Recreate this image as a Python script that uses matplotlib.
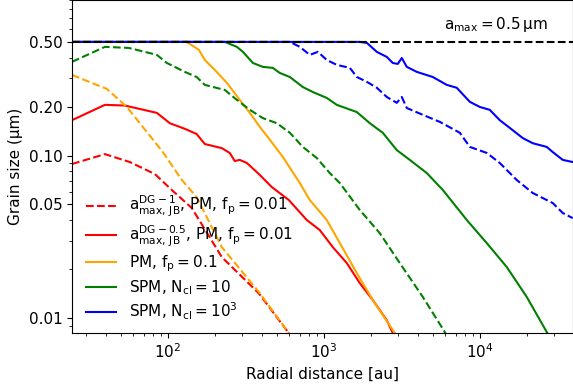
import matplotlib
matplotlib.use("Agg")
import matplotlib.pyplot as plt
from matplotlib.ticker import FixedLocator, FormatStrFormatter, LogLocator, NullFormatter

plt.rcParams['mathtext.default'] = 'regular'
plt.rcParams['font.size'] = 11

# Red dashed: a_max,JB^{DG-1}, PM, f_p=0.01
r1_x = [24.3, 39.5, 57, 82.6, 106, 142.5, 222, 383, 597, 700]
r1_y = [0.0887, 0.102, 0.0912, 0.0769, 0.0614, 0.0475, 0.0237, 0.0142, 0.00807, 0.0065]

# Red solid: a_max,JB^{DG-0.5}, PM, f_p=0.01
r2_x = [24.3, 39.5, 53, 85, 103, 128.5, 153, 172.6, 222, 249.5, 268.5, 289, 321, 389, 464,
        597, 778, 942, 1143, 1404, 1702, 2062, 2534, 2768, 3000]
r2_y = [0.165, 0.205, 0.203, 0.183, 0.158, 0.146, 0.1356, 0.1177, 0.111, 0.1037, 0.0925, 0.094,
        0.090, 0.0759, 0.064, 0.0532, 0.0401, 0.0348, 0.0273, 0.0218, 0.0164, 0.0129, 0.0097,
        0.0081, 0.0068]

# Orange dashed (no legend entry)
o1_x = [24.3, 40.6, 54.6, 92.9, 123, 153, 222, 383, 597, 700]
o1_y = [0.313, 0.257, 0.199, 0.105, 0.0707, 0.0555, 0.0273, 0.0145, 0.0081, 0.0066]

# Orange solid: PM, f_p=0.1
o2_x = [24.3, 132, 158, 172.6, 200, 239, 289, 335.5, 389, 451, 546, 702, 813, 1045, 1267,
        1629, 2062, 2850, 3100]
o2_y = [0.5, 0.5, 0.447, 0.387, 0.336, 0.280, 0.220, 0.183, 0.150, 0.125, 0.098, 0.0677,
        0.0532, 0.0401, 0.0289, 0.0189, 0.0129, 0.0081, 0.0070]

# Green dashed (no legend entry)
g1_x = [24.3, 39.5, 56.2, 85, 98.5, 128.5, 153, 172.6, 232, 277, 335.5, 406, 500, 606, 733,
        901, 1092, 1267, 1702, 2285, 3070, 4311, 5970, 6500]
g1_y = [0.377, 0.466, 0.459, 0.416, 0.371, 0.327, 0.304, 0.272, 0.253, 0.220, 0.191, 0.170,
        0.158, 0.138, 0.113, 0.0966, 0.078, 0.0677, 0.0462, 0.0333, 0.0218, 0.0135, 0.0082,
        0.0070]

# Green solid: SPM, N_cl=10
g2_x = [24.3, 232, 277, 303, 351, 406, 471, 522, 606, 733, 849, 1045, 1211, 1629, 1973, 2388,
        2937, 3558, 4575, 5793, 8260, 11100, 14900, 20000, 26900, 29000]
g2_y = [0.5, 0.5, 0.466, 0.434, 0.371, 0.351, 0.346, 0.322, 0.304, 0.264, 0.246, 0.226, 0.205,
        0.185, 0.158, 0.138, 0.108, 0.094, 0.078, 0.0614, 0.0401, 0.0289, 0.0206, 0.0135,
        0.0082, 0.0072]

# Blue dashed (no legend entry)
b1_x = [24.3, 606, 702, 813, 916, 1045, 1211, 1468, 1629, 1888, 2188, 2535, 2937, 3162, 3405,
        4311, 5546, 7450, 8630, 11100, 13430, 17260, 21870, 29380, 34050, 39460]
b1_y = [0.5, 0.5, 0.466, 0.416, 0.434, 0.387, 0.361, 0.346, 0.304, 0.284, 0.261, 0.229, 0.211,
        0.229, 0.196, 0.178, 0.161, 0.138, 0.113, 0.1037, 0.090, 0.0707, 0.0588, 0.051,
        0.0443, 0.0412]

# Blue solid: SPM, N_cl=10^3
b2_x = [24.3, 1702, 1888, 2188, 2535, 2768, 2979, 3162, 3405, 3945, 5000, 6140, 7120, 8630,
        10000, 11590, 13430, 15560, 18870, 21870, 26860, 29380, 34050, 39460]
b2_y = [0.5, 0.5, 0.493, 0.434, 0.404, 0.371, 0.366, 0.398, 0.351, 0.327, 0.304, 0.272, 0.261,
        0.214, 0.199, 0.191, 0.165, 0.148, 0.128, 0.119, 0.113, 0.105, 0.094, 0.0912]

a_max = 0.5
y_ticks = [0.01, 0.05, 0.10, 0.20, 0.50]

fig = plt.figure(figsize=(5.73, 3.89), dpi=100)
ax = fig.add_axes([0.1257, 0.144, 0.874, 0.855])

ax.plot(r1_x, r1_y, color='red', ls='--', lw=1.5,
        label=r'$a^{\rm DG-1}_{\rm max,\,JB}$, PM, $f_{\rm p}=0.01$')
ax.plot(r2_x, r2_y, color='red', ls='-', lw=1.5,
        label=r'$a^{\rm DG-0.5}_{\rm max,\,JB}$, PM, $f_{\rm p}=0.01$')
ax.plot(o1_x, o1_y, color='orange', ls='--', lw=1.5)
ax.plot(o2_x, o2_y, color='orange', ls='-', lw=1.5, label=r'PM, $f_{\rm p}=0.1$')
ax.plot(g1_x, g1_y, color='green', ls='--', lw=1.5)
ax.plot(g2_x, g2_y, color='green', ls='-', lw=1.5, label=r'SPM, $N_{\rm cl}=10$')
ax.plot(b1_x, b1_y, color='blue', ls='--', lw=1.5)
ax.plot(b2_x, b2_y, color='blue', ls='-', lw=1.5, label=r'SPM, $N_{\rm cl}=10^3$')
ax.axhline(a_max, color='black', ls='--', lw=1.5)

ax.set_xscale('log')
ax.set_yscale('log')
ax.set_xlim(24.3, 3.95e4)
ax.set_ylim(0.0081, 0.9)

ax.yaxis.set_major_locator(FixedLocator(y_ticks))
ax.yaxis.set_major_formatter(FormatStrFormatter('%.2f'))
ax.yaxis.set_minor_locator(LogLocator(base=10, subs=range(2, 10)))
ax.yaxis.set_minor_formatter(NullFormatter())

ax.set_xlabel('Radial distance [au]')
ax.set_ylabel('Grain size (μm)')

ax.text(0.95, 0.928, r'$a_{\rm max}=0.5\,{\rm \mu m}$', transform=ax.transAxes,
        ha='right', va='center')

ax.legend(loc='lower left', bbox_to_anchor=(0.006, 0.0), frameon=False,
          labelspacing=0.28, borderaxespad=0.3)

fig.savefig('out.png', dpi=100)
